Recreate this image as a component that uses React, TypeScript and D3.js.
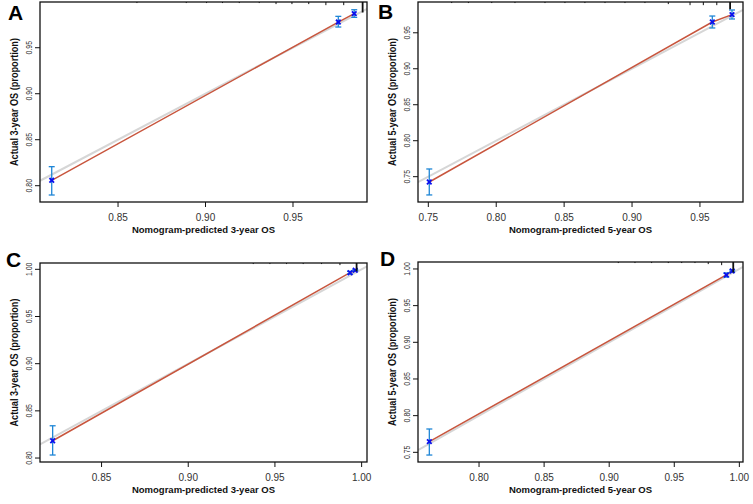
import * as d3 from "d3";

const predA = [0.8121, 0.9759, 0.985];
const obsA = [0.8059, 0.9779, 0.987];
const loA = [0.7899, 0.9725, 0.983];
const hiA = [0.8207, 0.9841, 0.9913];

const predB = [0.7507, 0.9591, 0.9736];
const obsB = [0.7426, 0.965, 0.9752];
const loB = [0.7246, 0.9567, 0.9692];
const hiB = [0.7607, 0.9733, 0.9817];

const predC = [0.8218, 0.9933, 0.9963];
const obsC = [0.8183, 0.9964, 0.999];
const loC = [0.8032, 0.995, 0.9984];
const hiC = [0.8342, 0.9978, 0.9996];

const predD = [0.7618, 0.99, 0.9945];
const obsD = [0.7645, 0.9918, 0.9973];
const loD = [0.7463, 0.989, 0.996];
const hiD = [0.7818, 0.9946, 0.9986];

// rug (distribution of predicted values) along the top
const rugA = [0.8608, 0.889, 0.9006, 0.9097, 0.9193, 0.9307, 0.9403, 0.9494, 0.959, 0.9688, 0.979, 0.9898];
const rugCountA = [1, 1, 1, 1, 1, 1, 2, 2, 2, 3, 3, 10];
const rugB = [0.7672, 0.7795, 0.7967, 0.8138, 0.8359, 0.8506, 0.8653, 0.8801, 0.8948, 0.9095, 0.9267, 0.9427, 0.9525, 0.9624, 0.9722];
const rugCountB = [1, 1, 1, 1, 1, 1, 1, 1, 1, 1, 2, 3, 3, 3, 7];
const rugC = [0.9375, 0.9471, 0.9567, 0.9663, 0.9769, 0.9875, 0.9971];
const rugCountC = [1, 1, 1, 1, 1, 2, 8];
const rugD = [0.907, 0.9198, 0.9326, 0.9454, 0.9557, 0.9659, 0.9761, 0.9864, 0.9953];
const rugCountD = [1, 1, 1, 1, 1, 1, 2, 3, 10];

const xTicksA = [0.85, 0.9, 0.95];
const yTicksA = [0.8, 0.85, 0.9, 0.95];
const xTicksB = [0.75, 0.8, 0.85, 0.9, 0.95];
const yTicksB = [0.75, 0.8, 0.85, 0.9, 0.95];
const xTicksC = [0.85, 0.9, 0.95, 1.0];
const yTicksC = [0.8, 0.85, 0.9, 0.95, 1.0];
const xTicksD = [0.8, 0.85, 0.9, 0.95, 1.0];
const yTicksD = [0.75, 0.8, 0.85, 0.9, 0.95, 1.0];

const letters = ["A", "B", "C", "D"];
const xTitles = [
  "Nomogram-predicted 3-year OS",
  "Nomogram-predicted 5-year OS",
  "Nomogram-predicted 3-year OS",
  "Nomogram-predicted 5-year OS",
];
const yTitles = [
  "Actual 3-year OS (proportion)",
  "Actual 5-year OS (proportion)",
  "Actual 3-year OS (proportion)",
  "Actual 5-year OS (proportion)",
];

const panels = [
  { box: [40, 367, 2, 202], xd: [0.8054, 0.9923], yd: [0.7823, 0.9997], pred: predA, obs: obsA, lo: loA, hi: hiA, rug: rugA, rugN: rugCountA, xt: xTicksA, yt: yTicksA, letter: [8, 20] },
  { box: [418, 743, 2, 202], xd: [0.7424, 0.9817], yd: [0.7148, 0.9928], pred: predB, obs: obsB, lo: loB, hi: hiB, rug: rugB, rugN: rugCountB, xt: xTicksB, yt: yTicksB, letter: [378, 19] },
  { box: [40, 367, 263, 462], xd: [0.8145, 1.0031], yd: [0.7958, 1.0067], pred: predC, obs: obsC, lo: loC, hi: hiC, rug: rugC, rugN: rugCountC, xt: xTicksC, yt: yTicksC, letter: [6, 267] },
  { box: [418, 743, 262, 462], xd: [0.7531, 1.0028], yd: [0.7368, 1.0095], pred: predD, obs: obsD, lo: loD, hi: hiD, rug: rugD, rugN: rugCountD, xt: xTicksD, yt: yTicksD, letter: [380, 266] },
];

const font = "'Liberation Sans', Arial, sans-serif";

function Panel({ p, i }: { p: any; i: number }) {
  const [x0, x1, y0, y1] = p.box;
  const x = d3.scaleLinear().domain(p.xd).range([x0, x1]);
  const y = d3.scaleLinear().domain(p.yd).range([y1, y0]);
  const rugH = d3.scaleLinear().domain([0, 1]).range([0, 1.05]);
  const pts = p.pred.map((v: number, k: number) => [v, p.obs[k]] as [number, number]);
  const line = d3
    .line<[number, number]>()
    .x((d) => x(d[0]))
    .y((d) => y(d[1]));
  const ideal: [number, number][] = [
    [p.xd[0], p.xd[0]],
    [p.xd[1], p.xd[1]],
  ];
  const clipId = "clip" + i;
  const cx = (x0 + x1) / 2;
  const cy = (y0 + y1) / 2;
  return (
    <g>
      <defs>
        <clipPath id={clipId}>
          <rect x={x0} y={y0} width={x1 - x0} height={y1 - y0} />
        </clipPath>
      </defs>
      <g clipPath={`url(#${clipId})`}>
        <path d={line(ideal) || ""} stroke="#d6d6d6" strokeWidth={2} fill="none" />
        <path d={line(pts) || ""} stroke="#c8553d" strokeWidth={1.5} fill="none" />
        {p.pred.map((v: number, k: number) => (
          <g key={k} stroke="#1f86d6" strokeWidth={1.3}>
            <line x1={x(v)} x2={x(v)} y1={y(p.lo[k])} y2={y(p.hi[k])} />
            <line x1={x(v) - 3} x2={x(v) + 3} y1={y(p.lo[k])} y2={y(p.lo[k])} />
            <line x1={x(v) - 3} x2={x(v) + 3} y1={y(p.hi[k])} y2={y(p.hi[k])} />
          </g>
        ))}
        {pts.map((d: [number, number], k: number) => (
          <g key={k} stroke="#0a10ee" strokeWidth={1.8}>
            <line x1={x(d[0]) - 2.3} x2={x(d[0]) + 2.3} y1={y(d[1]) - 2.3} y2={y(d[1]) + 2.3} />
            <line x1={x(d[0]) - 2.3} x2={x(d[0]) + 2.3} y1={y(d[1]) + 2.3} y2={y(d[1]) - 2.3} />
          </g>
        ))}
        {p.rug.map((v: number, k: number) => (
          <line key={k} x1={x(v)} x2={x(v)} y1={y0} y2={y0 + rugH(p.rugN[k])} stroke="#111" strokeWidth={p.rugN[k] > 5 ? 1.8 : 1} />
        ))}
      </g>
      <rect x={x0} y={y0} width={x1 - x0} height={y1 - y0} fill="none" stroke="#111" strokeWidth={1.3} />
      {p.xt.map((t: number) => (
        <g key={t}>
          <line x1={x(t)} x2={x(t)} y1={y1} y2={y1 + 5} stroke="#111" strokeWidth={1} />
          <text x={x(t)} y={y1 + 19} textAnchor="middle" fontSize={10} fill="#333" fontFamily={font}>
            {t.toFixed(2)}
          </text>
        </g>
      ))}
      {p.yt.map((t: number) => (
        <g key={t}>
          <line x1={x0 - 5} x2={x0} y1={y(t)} y2={y(t)} stroke="#111" strokeWidth={1} />
          <text
            transform={`translate(${x0 - 8.5},${y(t)}) rotate(-90)`}
            textAnchor="middle"
            fontSize={9.5}
            fill="#333"
            fontFamily={font}
            textLength={13.5}
            lengthAdjust="spacingAndGlyphs"
          >
            {t.toFixed(2)}
          </text>
        </g>
      ))}
      <text x={cx} y={y1 + 31} textAnchor="middle" fontSize={9.5} fontWeight="bold" fill="#111" fontFamily={font}>
        {xTitles[i]}
      </text>
      <text
        transform={`translate(${x0 - 22.5},${cy}) rotate(-90)`}
        textAnchor="middle"
        fontSize={10}
        fontWeight="bold"
        fill="#111"
        fontFamily={font}
        textLength={128}
        lengthAdjust="spacingAndGlyphs"
      >
        {yTitles[i]}
      </text>
      <text x={p.letter[0]} y={p.letter[1]} fontSize={21} fontWeight="bold" fill="#000" fontFamily={font}>
        {letters[i]}
      </text>
    </g>
  );
}

export default function App() {
  return (
    <svg
      width={753}
      height={504}
      style={{ position: "absolute", left: 0, top: 0, background: "#fff" }}
    >
      {panels.map((p, i) => (
        <Panel key={i} p={p} i={i} />
      ))}
    </svg>
  );
}
